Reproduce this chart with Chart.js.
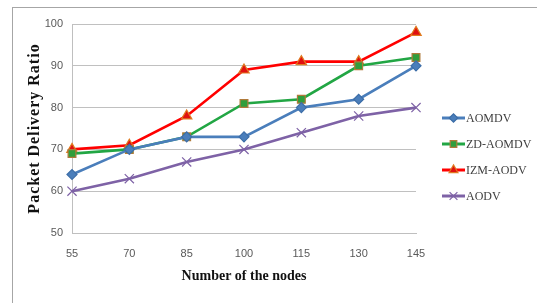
<!DOCTYPE html>
<html><head><meta charset="utf-8">
<script src="https://cdn.jsdelivr.net/npm/chart.js@4/dist/chart.umd.min.js"></script>
<style>html,body{margin:0;padding:0;background:#fff}#wrap{width:537px;height:303px}</style>
</head><body><div id="wrap"><canvas id="c" width="537" height="303"></canvas></div>
<script>
const nodes = ['55','70','85','100','115','130','145'];
const aomdv = [64, 70, 73, 73, 80, 82, 90];
const zdAomdv = [69, 70, 73, 81, 82, 90, 92];
const izmAodv = [70, 71, 78, 89, 91, 91, 98];
const aodv = [60, 63, 67, 70, 74, 78, 80];
const yTicks = [50, 60, 70, 80, 90, 100];

const frame = {
  id: 'frame',
  beforeDraw(chart) {
    const ctx = chart.ctx;
    ctx.save();
    ctx.fillStyle = '#fff';
    ctx.fillRect(0, 0, chart.width, chart.height);
    ctx.strokeStyle = '#a6a6a6';
    ctx.lineWidth = 1;
    ctx.strokeRect(12.5, 7.5, 540, 310);
    ctx.restore();
    const ys = chart.scales.y;
    if (ys && !ys._spaced) {
      const orig = ys.drawTitle;
      ys.drawTitle = function () {
        const c = this.ctx;
        const prev = c.letterSpacing;
        c.letterSpacing = '1px';
        orig.apply(this, arguments);
        c.letterSpacing = prev || '0px';
      };
      ys._spaced = true;
    }
  }
};

const legendPlug = {
  id: 'sideLegend',
  afterDraw(chart) {
    const ctx = chart.ctx;
    const x0 = 442, x1 = 465, ys = [118, 144, 170, 196];
    chart.data.datasets.forEach((ds, i) => {
      const y = ys[i];
      ctx.save();
      ctx.strokeStyle = ds.borderColor;
      ctx.lineWidth = 3;
      ctx.beginPath(); ctx.moveTo(x0, y); ctx.lineTo(x1, y); ctx.stroke();
      ctx.restore();
      ctx.save();
      ctx.fillStyle = ds.pointBackgroundColor; ctx.strokeStyle = ds.pointBorderColor;
      ctx.lineWidth = ds.pointBorderWidth;
      Chart.helpers.drawPoint(ctx, {
        pointStyle: ds.pointStyle, radius: ds.pointRadius * 0.85, rotation: 0,
        borderWidth: ds.pointBorderWidth
      }, (x0 + x1) / 2, y);
      ctx.restore();
      ctx.save();
      ctx.fillStyle = '#404040';
      ctx.font = '12px "Liberation Serif", "Times New Roman", serif';
      ctx.textBaseline = 'middle';
      ctx.fillText(ds.label, x1 + 1, y + 1);
      ctx.restore();
    });
  }
};

function ds(label, data, color, style, radius, fill, border) {
  return {
    label, data, borderColor: color, backgroundColor: color,
    borderWidth: 2.6, tension: 0, pointStyle: style, pointRadius: radius,
    pointBackgroundColor: fill, pointBorderColor: border, pointBorderWidth: 1.2,
    pointHoverRadius: radius
  };
}

new Chart(document.getElementById('c'), {
  type: 'line',
  data: {
    labels: nodes,
    datasets: [
      ds('AOMDV', aomdv, '#4a7ebb', 'rectRot', 5, '#4a7ebb', '#3d6ea8'),
      ds('ZD-AOMDV', zdAomdv, '#22a644', 'rect', 5.5, '#2f9e3c', '#b07a3a'),
      ds('IZM-AODV', izmAodv, '#ff0000', 'triangle', 6, '#e01010', '#e07a20'),
      ds('AODV', aodv, '#7e62a6', 'crossRot', 6.5, '#7e62a6', '#7e62a6')
    ]
  },
  options: {
    responsive: false, animation: false, devicePixelRatio: 1,
    layout: { padding: { left: 12, top: 24, right: 121, bottom: 0 } },
    plugins: { legend: { display: false }, tooltip: { enabled: false } },
    scales: {
      x: {
        offset: false,
        grid: { display: false, drawTicks: false },
        border: { display: true, color: '#bfbfbf' },
        ticks: { padding: 14, color: '#595959', font: { family: '"Liberation Sans", Arial, sans-serif', size: 11 } },
        title: { display: true, text: 'Number of the nodes', color: '#111',
          font: { family: '"Liberation Serif", "Times New Roman", serif', size: 14, weight: 'bold' },
          padding: { top: 0, bottom: 18 } },
        afterFit(s) { s.height = 70; }
      },
      y: {
        min: 50, max: 100,
        afterBuildTicks(s) { s.ticks = yTicks.map(v => ({ value: v })); },
        grid: { color: '#c0c0c0', drawTicks: false },
        border: { display: true, color: '#bfbfbf' },
        ticks: { padding: 9, color: '#595959', font: { family: '"Liberation Sans", Arial, sans-serif', size: 11 } },
        title: { display: true, text: 'Packet Delivery Ratio', color: '#111',
          font: { family: '"Liberation Serif", "Times New Roman", serif', size: 16, weight: 'bold' },
          padding: { top: 13, bottom: 0 } },
        afterFit(s) { s.width = 60; }
      }
    }
  },
  plugins: [frame, legendPlug]
});
</script>
</body></html>
